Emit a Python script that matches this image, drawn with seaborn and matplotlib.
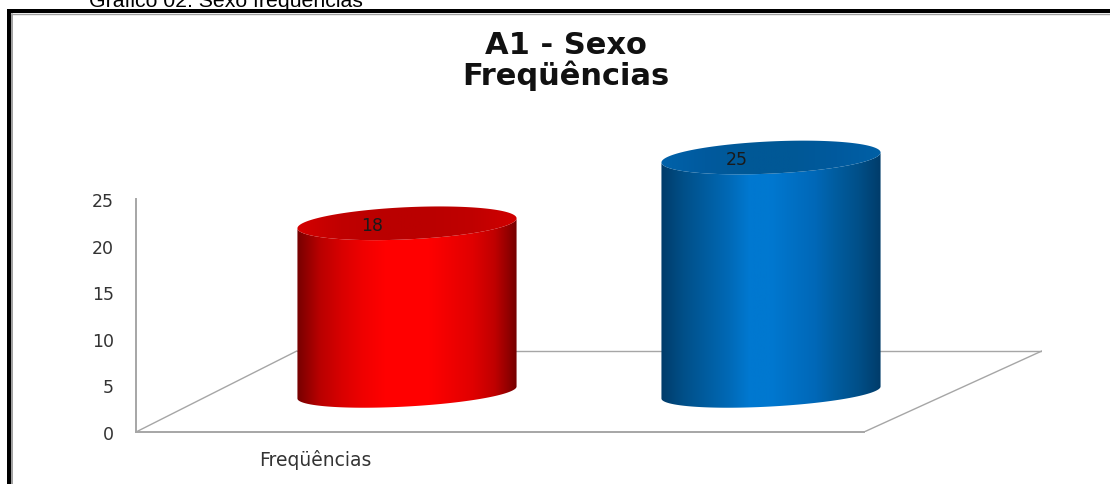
#!/usr/bin/env python
import numpy as np
import pandas as pd
import seaborn as sns
import matplotlib.pyplot as plt
from matplotlib.colors import LinearSegmentedColormap
from matplotlib.lines import Line2D
from matplotlib.patches import Polygon, Rectangle

# chart values
categoria = ["Freqüências"]
grupos = ["Grupo 1", "Grupo 2"]
frequencias = [18, 25]
yticks = [0, 5, 10, 15, 20, 25]
cores = ["#ff0000", "#0078d0"]
rampa_vermelha = ["#760000", "#b80000", "#d80000", "#f00000", "#ff0000", "#ff0000",
                  "#ff0000", "#f00000", "#e00000", "#c00000", "#760000"]
rampa_azul = ["#003c6a", "#004f88", "#005c9e", "#0068b4", "#0078d0", "#0078d0",
              "#0070c4", "#0068b8", "#005c9e", "#004f88", "#003c6a"]
topo_vermelho = ["#d40000", "#c00000", "#ba0000", "#ba0000", "#c00000", "#d00000"]
topo_azul = ["#0062aa", "#005a9e", "#005896", "#005896", "#005a9e", "#0060a6"]

W, H = 1110, 485
PX_Y_BAR = 9.4  # pixels per value for the raised bars


def fig_rect(left, right, top, bottom):
    return [left / W, 1 - bottom / H, (right - left) / W, (bottom - top) / H]


def ellipse(cx, cy, half_w, half_h, tilt, t):
    x = cx + half_w * np.cos(t)
    y = cy + (tilt * np.cos(t) + half_h * np.sin(t)) / PX_Y_BAR
    return x, y


def gradiente(axe, pontos, rampa, extent, zorder):
    # horizontal colour ramp clipped to the outline in pontos
    contorno = Polygon(pontos, closed=True, fc="none", ec="none", transform=axe.transData)
    axe.add_patch(contorno)
    cmap = LinearSegmentedColormap.from_list("rampa", rampa)
    img = axe.imshow(np.linspace(0, 1, 256)[None, :], cmap=cmap, aspect="auto",
                     extent=extent, zorder=zorder)
    img.set_clip_path(contorno)


sns.set_theme(style="white")
plt.rcParams["font.family"] = ["DejaVu Sans"]

fig = plt.figure(figsize=(W / 100, H / 100), dpi=100, facecolor="white")
xlim = (-0.4978, 0.4978)

# front wall and floor
ax = fig.add_axes(fig_rect(136, 1042, 200, 433))
ax.set_xlim(xlim)
ax.set_ylim(0, 25)
ax.set_facecolor("none")
sns.despine(ax=ax)
ax.spines["left"].set_color("#a6a6a6")
ax.spines["left"].set_linewidth(1.4)
ax.spines["bottom"].set_color("#a6a6a6")
ax.spines["bottom"].set_linewidth(1.4)
ax.spines["bottom"].set_bounds(xlim[0], 0.3022)
ax.set_yticks(yticks, [str(v) for v in yticks])
ax.set_xticks([-0.301], categoria)
ax.tick_params(axis="y", length=0, pad=16, labelsize=12.5, labelcolor="#333333")
ax.tick_params(axis="x", length=0, pad=12, labelsize=13.5, labelcolor="#333333")
piso = 8.7
ax.plot([xlim[0], -0.3209], [0, piso], color="#a6a6a6", lw=1)
ax.plot([-0.3209, xlim[1]], [piso, piso], color="#a6a6a6", lw=1)
ax.plot([0.3022, xlim[1]], [0, piso], color="#a6a6a6", lw=1)

# cylinders, seaborn gives the bar geometry
df = pd.DataFrame({"categoria": categoria * 2, "grupo": grupos, "frequencia": frequencias})
ax_bar = fig.add_axes(fig_rect(136, 1042, 393.5 - 30 * PX_Y_BAR, 393.5 + 3 * PX_Y_BAR))
sns.barplot(
    data=df, x="categoria", y="frequencia", hue="grupo", palette=cores,
    width=0.8, gap=0.398, legend=False, ax=ax_bar,
)
ax_bar.set_facecolor("none")
ax_bar.axis("off")

rampas = [rampa_vermelha, rampa_azul]
topos = [topo_vermelho, topo_azul]
t = np.linspace(0, 2 * np.pi, 181)
t_baixo = np.linspace(np.pi, 2 * np.pi, 91)
for i, barra in enumerate(ax_bar.patches[:2]):
    barra.set_visible(False)
    x0, largura, altura = barra.get_x(), barra.get_width(), barra.get_height()
    cx, a = x0 + largura / 2, largura / 2

    # body outline: lower half of the base, then back along the lower half of the top
    xb, yb = ellipse(cx, 0, a, 14.0, 6.0, t_baixo)
    xt, yt = ellipse(cx, altura, a, 16.1, 5.0, t_baixo[::-1])
    gradiente(ax_bar, np.r_[np.c_[xb, yb], np.c_[xt, yt]], rampas[i],
              (x0, x0 + largura, -3, altura + 3), 3)

    xc, yc = ellipse(cx, altura, a, 16.1, 5.0, t)
    gradiente(ax_bar, np.c_[xc, yc], topos[i], (x0, x0 + largura, altura - 3, altura + 3), 4)
    ax_bar.annotate(
        str(frequencias[i]), (cx, altura), xytext=(-25, -1), textcoords="offset points",
        ha="center", va="center", fontsize=12.5, color="#1a1a1a", zorder=5,
    )
ax_bar.set_xlim(xlim)
ax_bar.set_ylim(-3, 30)

# title and caption
fig.text(566 / W, 1 - 61 / H, "A1 - Sexo\nFreqüências", ha="center", va="center",
         fontsize=22, fontweight="bold", color="#111111", linespacing=1.05)
fig.text(89 / W, 1 - 7 / H, "Gráfico 02: Sexo freqüências", ha="left", va="baseline",
         fontsize=15.3, family="Liberation Sans", color="black")

# frame around the picture
fig.add_artist(Rectangle((6.5 / W, 0), 4 / W, 1 - 10 / H, transform=fig.transFigure, fc="black", ec="none"))
fig.add_artist(Rectangle((6.5 / W, 1 - 14 / H), 1 - 6.5 / W, 4 / H, transform=fig.transFigure, fc="black", ec="none"))
fig.add_artist(Line2D([11.5 / W, 11.5 / W], [0, 1 - 15 / H], color="#a0a0a0", lw=1.4))
fig.add_artist(Line2D([11 / W, 1], [1 - 15 / H, 1 - 15 / H], color="#a0a0a0", lw=1))

fig.savefig("out.png", dpi=100)
